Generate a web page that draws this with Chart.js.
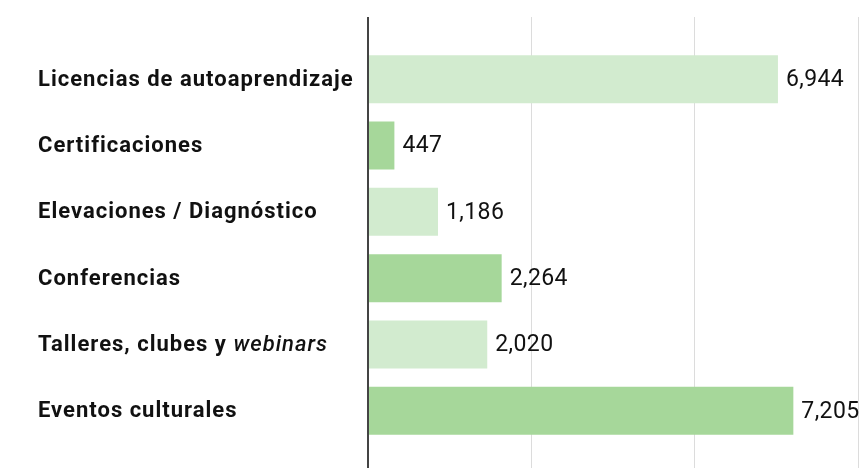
<!DOCTYPE html>
<html>
<head>
<meta charset="utf-8">
<script src="https://cdn.jsdelivr.net/npm/chart.js@4"></script>
<style>
  html, body { margin: 0; background: #fff; }
  #wrap { width: 868px; height: 468px; }
</style>
</head>
<body>
<div id="wrap"><canvas id="barChart"></canvas></div>
<script>
const categories = [
  'Licencias de autoaprendizaje',
  'Certificaciones',
  'Elevaciones / Diagnóstico',
  'Conferencias',
  'Talleres, clubes y webinars',
  'Eventos culturales'
];
const values = [6944, 447, 1186, 2264, 2020, 7205];
const barColors = ['#d2ebcf', '#a6d79a', '#d2ebcf', '#a6d79a', '#d2ebcf', '#a6d79a'];
const italicWords = ['webinars'];
const xMax = 8300;

const gridColor = ctx => (ctx.tick && ctx.tick.value === 0) ? '#444' : '#dcdcdc';
const gridWidth = ctx => (ctx.tick && ctx.tick.value === 0) ? 2 : 1;

// value labels + category labels (mixed bold / italic)
const labelPlugin = {
  id: 'barLabels',
  afterDatasetsDraw(chart) {
    const ctx = chart.ctx;
    const meta = chart.getDatasetMeta(0);
    ctx.save();
    ctx.fillStyle = '#111';
    ctx.textBaseline = 'middle';
    ctx.textAlign = 'left';
    meta.data.forEach((bar, i) => {
      ctx.font = '400 23px Roboto';
      ctx.letterSpacing = '0.4px';
      ctx.fillText(values[i].toLocaleString('en-US'), bar.x + 8, bar.y + 1);

      let x = 38;
      ctx.letterSpacing = '1px';
      const words = categories[i].split(' ');
      words.forEach((w, j) => {
        const italic = italicWords.includes(w);
        ctx.font = italic ? 'italic 500 22px Roboto' : '700 22px Roboto';
        const txt = j < words.length - 1 ? w + ' ' : w;
        ctx.fillText(txt, x, bar.y + 1);
        x += ctx.measureText(txt).width;
      });
    });
    ctx.restore();
  }
};

new Chart(document.getElementById('barChart'), {
  type: 'bar',
  data: {
    labels: categories,
    datasets: [{
      data: values,
      backgroundColor: barColors,
      borderWidth: 0,
      barPercentage: 0.723,
      categoryPercentage: 1
    }]
  },
  options: {
    indexAxis: 'y',
    responsive: true,
    maintainAspectRatio: false,
    animation: false,
    layout: { padding: { left: 38, right: 10, top: 17, bottom: 0 } },
    plugins: {
      legend: { display: false },
      tooltip: { enabled: false }
    },
    scales: {
      x: {
        position: 'bottom',
        min: 0,
        max: xMax,
        ticks: { display: false, count: 4 },
        border: { display: false },
        grid: { color: gridColor, lineWidth: gridWidth, drawTicks: true, tickLength: 24 }
      },
      x2: {
        type: 'linear',
        position: 'top',
        axis: 'x',
        min: 0,
        max: xMax,
        ticks: { display: false, count: 4 },
        border: { display: false },
        grid: { color: gridColor, lineWidth: gridWidth, drawOnChartArea: false, drawTicks: true, tickLength: 29 }
      },
      y: {
        ticks: { display: false },
        grid: { display: false },
        border: { display: false },
        afterFit: s => { s.width = 330; }
      }
    }
  },
  plugins: [labelPlugin]
});
</script>
</body>
</html>
